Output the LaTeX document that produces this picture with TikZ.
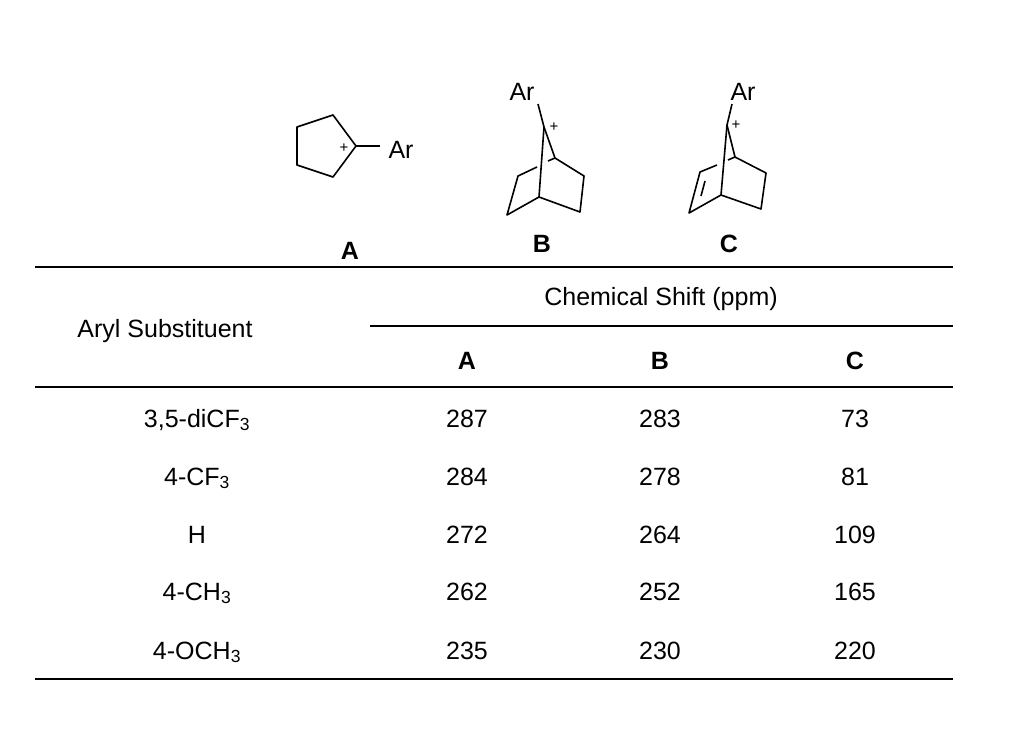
\documentclass[tikz,border=0pt]{standalone}
\usepackage{fontspec}
\setmainfont{Liberation Sans}
\begin{document}
\begin{tikzpicture}[x=1pt,y=-1pt,
  bond/.style={line width=1.6pt,line join=round},
  rule/.style={line width=2.2pt},
  txt/.style={font=\fontsize{25}{28}\selectfont,inner sep=0pt,anchor=base},
  lab/.style={font=\fontsize{25}{28}\selectfont\bfseries,inner sep=0pt,anchor=base},
  plus/.style={font=\fontsize{15}{17}\selectfont,inner sep=0pt}]
\useasboundingbox (0,0) rectangle (1024,745);
% A
\draw[bond] (297,127)--(333,115)--(356,146)--(333,177)--(297,165)--cycle;
\node[txt] (arA) at (401,158) {Ar};
\coordinate (cA) at (356,146);
\coordinate (eA) at (380,146);
\draw[bond] (cA)--(eA);
\node[plus] at (344,148) {+};
% B
\node[txt] (arB) at (522,100) {Ar};
\draw[bond] (538,104)--(544,127);
\node[plus] at (554,127) {+};
\draw[bond] (544,127)--(555,158)--(584,176)--(580,212)--(539,197)--(507,215)--(518,176)--(537,167);
\draw[bond] (544,127)--(539,197);
\draw[bond] (548,161)--(555,158);
% C
\node[txt] (arC) at (743,100) {Ar};
\draw[bond] (732,104)--(727,125);
\node[plus] at (736,125) {+};
\draw[bond] (727,125)--(735,157)--(766,173)--(761,209)--(721,195)--(689,213)--(700,172)--(717,165);
\draw[bond] (727,125)--(721,195);
\draw[bond] (728,160)--(735,157);
\draw[bond] (701,196)--(705,181);
\node[lab] at (350,259) {A};
\node[lab] at (542,252) {B};
\node[lab] at (729,252) {C};
% table
\draw[rule] (35,267)--(953,267);
\draw[rule] (370,326)--(953,326);
\draw[rule] (35,387)--(953,387);
\draw[rule] (35,679)--(953,679);
\node[txt] at (661,305) {Chemical Shift (ppm)};
\node[txt] at (165,337) {Aryl Substituent};
\node[lab] at (467,369) {A};
\node[lab] at (660,369) {B};
\node[lab] at (855,369) {C};
\foreach \y/\s/\a/\b/\c in {427/{3,5-diCF\textsubscript{3}}/287/283/73,485/{4-CF\textsubscript{3}}/284/278/81,543/H/272/264/109,600/{4-CH\textsubscript{3}}/262/252/165,659/{4-OCH\textsubscript{3}}/235/230/220}{
  \node[txt] at (197,\y) {\s};
  \node[txt] at (467,\y) {\a};
  \node[txt] at (660,\y) {\b};
  \node[txt] at (855,\y) {\c};
}
\end{tikzpicture}
\end{document}
